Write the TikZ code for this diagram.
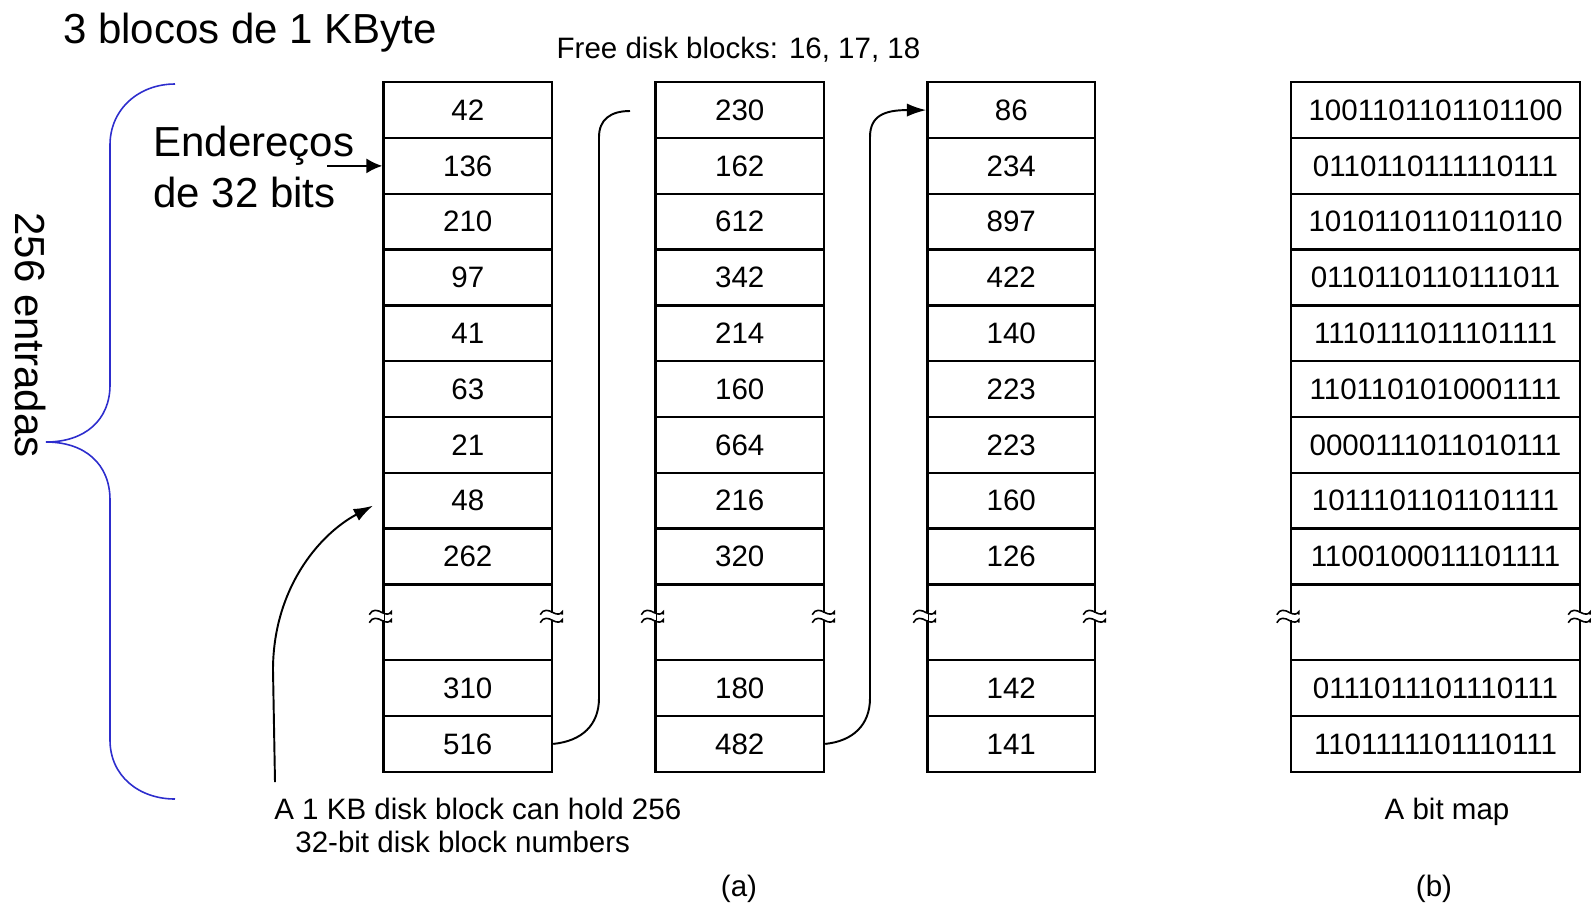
\documentclass[tikz,border=0pt]{standalone}
\usepackage{fontspec}
\setmainfont{Liberation Sans}
\usetikzlibrary{arrows.meta,positioning,calc}
\definecolor{braceblue}{RGB}{45,45,205}

% break marks on the side of the gap row
\newcommand{\gapmark}[1]{%
  \begin{scope}[shift={($(#1)+(0,-5.6)$)}]
    \fill[white] (-2,-3.5) rectangle (2,3.5);
    \draw[brk] (-13,-2) .. controls (-10,-8) and (-5,-7) .. (0,-4) .. controls (4,-2) and (7,-2) .. (9,-5) -- (9,-2);
    \draw[brk] (-13,6) .. controls (-10,0) and (-5,1) .. (0,4) .. controls (4,6) and (7,6) .. (9,3) -- (9,6);
  \end{scope}}

% one column of disk block entries
\newcommand{\blockcolumn}[6]{%
  \foreach \v [count=\i] in {#4}
    \node[cell, minimum width=#3] (#1-\i) at (#2,{82.2+55.8*(\i-0.5)}) {\v};
  \node[cell, minimum width=#3, minimum height=1.516cm] (#1-10) at (#2,622.3) {};
  \node[cell, minimum width=#3] (#1-11) at (#2,688.1) {#5};
  \node[cell, minimum width=#3] (#1-12) at (#2,743.9) {#6};
  \gapmark{#1-10.west}
  \gapmark{#1-10.east}
}

\begin{document}
\begin{tikzpicture}[
  x=0.02cm, y=-0.02cm,
  cell/.style={draw, line width=1.4pt, minimum height=1.116cm, inner sep=0pt,
               font=\fontsize{16.8}{19}\selectfont},
  bigtext/.style={inner sep=0pt, font=\fontsize{23.9}{29}\selectfont},
  smalltext/.style={inner sep=0pt, font=\fontsize{16.8}{18.8}\selectfont},
  brk/.style={line width=0.9pt},
  link/.style={line width=1.1pt},
  tip/.style={-{Latex[length=11pt,width=7.5pt]}},
  brace/.style={draw=braceblue, line width=0.9pt}
]
\useasboundingbox (0,0) rectangle (1591,907);

% (a) linked list of free blocks
\blockcolumn{c1}{467.75}{3.37cm}{42,136,210,97,41,63,21,48,262}{310}{516}
\blockcolumn{c2}{739.75}{3.37cm}{230,162,612,342,214,160,664,216,320}{180}{482}
\blockcolumn{c3}{1011.25}{3.35cm}{86,234,897,422,140,223,223,160,126}{142}{141}

% (b) bit map
\blockcolumn{c4}{1435.5}{5.78cm}{1001101101101100,0110110111110111,1010110110110110,0110110110111011,1110111011101111,1101101010001111,0000111011010111,1011101101101111,1100100011101111}{0111011101110111}{1101111101110111}

\node[bigtext, anchor=base west] (title) at (63,43) {3 blocos de 1 KByte};
\node[smalltext, anchor=base] (free) at (738.5,58) {Free disk blocks: 16, 17, 18};
\node[bigtext, rotate=-90] (count) at (30.5,335) {256 entradas};
\node[bigtext, anchor=west, align=left] (addr) at (153,167) {Endereços\\de 32 bits};
\node[smalltext, anchor=west, align=left] (note) at (274,825)
  {A 1 KB disk block can hold 256\\\hspace*{0.42cm}32-bit disk block numbers};
\node[smalltext, anchor=base] (bmlabel) at (1447,819.5) {A bit map};
\node[smalltext] (parta) at (739,889) {(a)};
\node[smalltext] (partb) at (1434,889) {(b)};

\coordinate (addrtail) at (327,165.9);
\coordinate (chainend) at (630,111);
\coordinate (notetail) at (275,782);

% links between blocks
\draw[link] (c1-12.east) .. controls (582,741) and (599,725) .. (599,698)
  -- (599,137) .. controls (599,120) and (610,111) .. (chainend);
\draw[link, tip] (c2-12.east) .. controls (853,741) and (870,725) .. (870,698)
  -- (870,137) .. controls (870,116) and (884,110) .. (c3-1.west);
\draw[link, tip, shorten >=6pt] (notetail) -- (273,670)
  .. controls (273,590) and (318,535) .. (c1-8.west);
\draw[link, -{Latex[length=9pt,width=8.5pt]}] (addrtail) -- (c1-2.west);

% brace over the 256 entries
\draw[brace] (175,84) .. controls (139,84) and (110,109) .. (110,145)
  -- (110,385) .. controls (110,420) and (85,442) .. (46,442)
  .. controls (85,442) and (110,464) .. (110,500)
  -- (110,740) .. controls (110,776) and (139,799) .. (175,799);
\end{tikzpicture}
\end{document}
